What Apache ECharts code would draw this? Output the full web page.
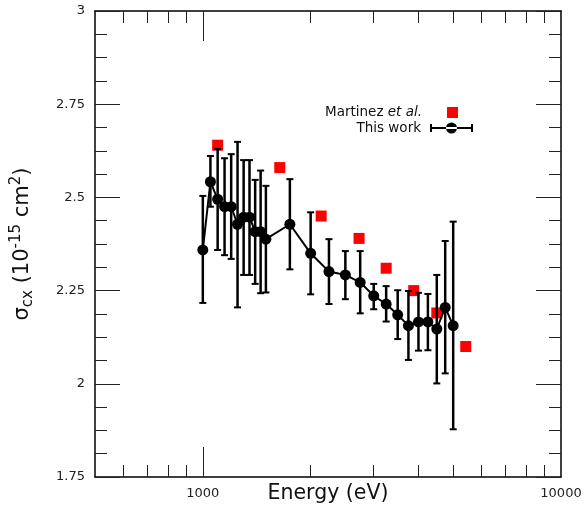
<!DOCTYPE html>
<html>
<head>
<meta charset="utf-8">
<script src="https://cdn.jsdelivr.net/npm/echarts@6/dist/echarts.min.js"></script>
<style>
  html, body { margin: 0; padding: 0; background: #fff; }
  #main { width: 585px; height: 514px; }
</style>
</head>
<body>
<div id="main"></div>
<script>
// this work: energy (eV), cross section, error bar ends
var energies = [1000, 1050, 1100, 1150, 1200, 1250, 1300, 1350, 1400, 1450, 1500, 1750,
  2000, 2250, 2500, 2750, 3000, 3250, 3500, 3750, 4000, 4250, 4500, 4750, 5000];
var sigma = [2.359, 2.542, 2.495, 2.475, 2.475, 2.428, 2.447, 2.447, 2.408, 2.408, 2.388, 2.428,
  2.350, 2.301, 2.292, 2.272, 2.236, 2.214, 2.185, 2.156, 2.166, 2.166, 2.147, 2.205, 2.156];
var errHigh = [2.504, 2.611, 2.630, 2.605, 2.616, 2.649, 2.600, 2.600, 2.547, 2.572, 2.531, 2.549,
  2.460, 2.388, 2.356, 2.356, 2.268, 2.262, 2.251, 2.249, 2.244, 2.241, 2.292, 2.383, 2.435];
var errLow = [2.217, 2.475, 2.359, 2.345, 2.335, 2.205, 2.292, 2.292, 2.268, 2.243, 2.245, 2.307,
  2.240, 2.214, 2.227, 2.189, 2.200, 2.167, 2.120, 2.064, 2.089, 2.090, 2.001, 2.028, 1.878];

// Martinez et al.
var martinezEnergy = [1100, 1640, 2140, 2730, 3250, 3880, 4500, 5420];
var martinezSigma = [2.64, 2.58, 2.45, 2.39, 2.31, 2.25, 2.19, 2.10];

// ticks
var xMajorTicks = [1000];
var xMinorTicks = [600, 700, 800, 900, 2000, 3000, 4000, 5000, 6000, 7000, 8000, 9000];
var xTickLabels = [1000, 10000];

var font = 'DejaVu Sans';
var tickColor = '#222';

var thisWork = [];
var bars = [];
for (var i = 0; i < energies.length; i++) {
  thisWork.push([energies[i], sigma[i]]);
  bars.push([energies[i], errLow[i], errHigh[i]]);
}
var martinez = [];
for (var j = 0; j < martinezEnergy.length; j++) {
  martinez.push([martinezEnergy[j], martinezSigma[j]]);
}

function renderErrorBar(params, api) {
  var x = api.value(0);
  var lo = api.coord([x, api.value(1)]);
  var hi = api.coord([x, api.value(2)]);
  var w = 3.5;
  var st = { stroke: '#000', lineWidth: 2.5 };
  var cap = { stroke: '#000', lineWidth: 2 };
  return {
    type: 'group',
    children: [
      { type: 'line', shape: { x1: lo[0], y1: lo[1], x2: hi[0], y2: hi[1] }, style: st },
      { type: 'line', shape: { x1: hi[0] - w, y1: hi[1], x2: hi[0] + w, y2: hi[1] }, style: cap },
      { type: 'line', shape: { x1: lo[0] - w, y1: lo[1], x2: lo[0] + w, y2: lo[1] }, style: cap }
    ]
  };
}

function xAxisOf(pos, ticks, len, showLine) {
  return {
    type: 'log',
    position: pos,
    min: 500,
    max: 10000,
    axisLine: { show: showLine, onZero: false, lineStyle: { color: '#000', width: 1.5 } },
    axisTick: { show: true, inside: true, length: len, customValues: ticks, lineStyle: { color: tickColor, width: 1 } },
    axisLabel: { show: false },
    splitLine: { show: false },
    minorTick: { show: false },
    minorSplitLine: { show: false }
  };
}

function yAxisOf(pos, showLabel) {
  return {
    type: 'value',
    position: pos,
    min: 1.75,
    max: 3,
    interval: 0.25,
    axisLine: { show: true, onZero: false, lineStyle: { color: '#000', width: 1.5 } },
    axisTick: { show: true, inside: true, length: 25, lineStyle: { color: tickColor, width: 1 } },
    minorTick: { show: true, splitNumber: 4, length: 12, lineStyle: { color: tickColor, width: 1 } },
    axisLabel: { show: showLabel, margin: 10, color: tickColor, fontSize: 13, fontFamily: font },
    splitLine: { show: false }
  };
}

var xMain = xAxisOf('bottom', xMajorTicks, 30, true);
xMain.axisLabel = {
  show: true, customValues: xTickLabels, margin: 10, color: tickColor, fontSize: 13, fontFamily: font,
  formatter: function (v) { return String(Math.round(v)); }
};
xMain.name = 'Energy (eV)';
xMain.nameLocation = 'middle';
xMain.nameGap = 6;
xMain.nameMoveOverlap = false;
xMain.nameTextStyle = { fontSize: 20.5, fontFamily: font, color: '#111' };

var yMain = yAxisOf('left', true);
yMain.name = '{s|σ}{sub|cx}{s| (10}{sup|-15}{s| cm}{sup|2}{s|)}';
yMain.nameLocation = 'middle';
yMain.nameRotate = 90;
yMain.nameGap = 58;
yMain.nameMoveOverlap = false;
yMain.nameTextStyle = {
  fontFamily: font,
  color: '#111',
  rich: {
    s: { fontSize: 21, fontFamily: font, color: '#111' },
    sub: { fontSize: 15, fontFamily: font, color: '#111', padding: [10, 0, 0, 0] },
    sup: { fontSize: 15, fontFamily: font, color: '#111', padding: [0, 0, 13, 0] }
  }
};

var chart = echarts.init(document.getElementById('main'));
chart.setOption({
  animation: false,
  backgroundColor: '#fff',
  grid: { left: 95, right: 24, top: 11, bottom: 37, containLabel: false, outerBoundsMode: 'none' },
  legend: [
    {
      data: [{ name: 'Martinez et al.', icon: 'rect' }],
      right: 127,
      top: 105.5,
      padding: 0,
      align: 'right',
      itemWidth: 11,
      itemHeight: 11,
      selectedMode: false,
      formatter: function () { return 'Martinez {i|et al.}'; },
      textStyle: {
        fontSize: 13.5, fontFamily: font, color: '#111', padding: [0, 20, 0, 0],
        rich: { i: { fontSize: 13.5, fontFamily: font, fontStyle: 'italic', color: '#111' } }
      }
    },
    {
      data: [{
        name: 'This work',
        icon: 'path://M0,5h43v2h-43Z M0,2h2v8h-2Z M41,2h2v8h-2Z M16,6a5.5,5.5 0 1,0 11,0a5.5,5.5 0 1,0 -11,0Z'
      }],
      right: 112,
      top: 121,
      padding: 0,
      align: 'right',
      itemWidth: 43,
      itemHeight: 12,
      selectedMode: false,
      textStyle: { fontSize: 13.5, fontFamily: font, color: '#111', padding: [0, 4, 0, 0] }
    }
  ],
  xAxis: [
    xMain,
    xAxisOf('bottom', xMinorTicks, 12, false),
    xAxisOf('top', xMajorTicks, 30, true),
    xAxisOf('top', xMinorTicks, 12, false)
  ],
  yAxis: [
    yMain,
    yAxisOf('right', false)
  ],
  series: [
    {
      name: 'Martinez et al.',
      type: 'scatter',
      data: martinez,
      symbol: 'rect',
      symbolSize: 11,
      itemStyle: { color: '#ff0000', opacity: 1 },
      z: 1
    },
    {
      name: 'error',
      type: 'custom',
      data: bars,
      renderItem: renderErrorBar,
      encode: { x: 0, y: [1, 2] },
      z: 2
    },
    {
      name: 'This work',
      type: 'line',
      data: thisWork,
      symbol: 'circle',
      symbolSize: 11,
      showSymbol: true,
      lineStyle: { color: '#000', width: 2 },
      itemStyle: { color: '#000' },
      z: 3
    }
  ]
});
</script>
</body>
</html>
